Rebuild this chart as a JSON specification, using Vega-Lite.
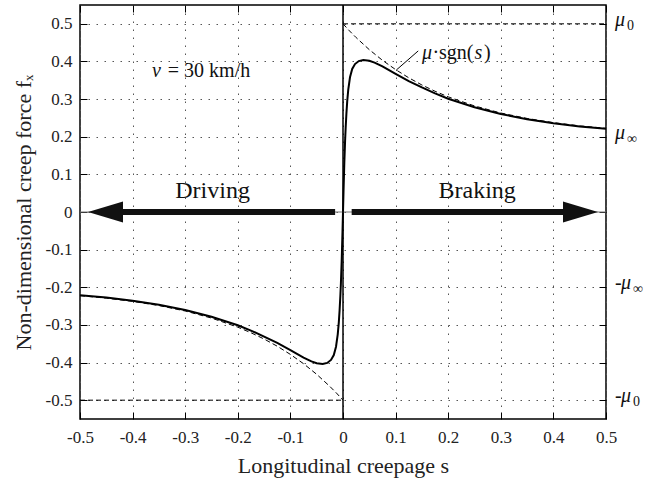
{
  "$schema": "https://vega.github.io/schema/vega-lite/v6.json",
  "width": 526,
  "height": 414,
  "autosize": {"type": "none"},
  "padding": {"left": 80, "top": 5, "right": 59, "bottom": 64},
  "background": "white",
  "config": {
    "font": "Liberation Serif",
    "view": {"stroke": "#000", "strokeWidth": 1.5},
    "axis": {
      "domain": false,
      "labelFont": "Liberation Serif",
      "labelFontSize": 17,
      "labelColor": "#222",
      "labelFlush": false,
      "titleFont": "Liberation Serif",
      "titleFontSize": 22,
      "titleFontWeight": "normal",
      "titleColor": "#222",
      "tickColor": "#000",
      "tickWidth": 1,
      "tickSize": -7,
      "gridColor": "#555",
      "gridDash": [1.5, 6.5],
      "gridWidth": 1
    },
    "text": {"font": "Liberation Serif", "color": "#111"}
  },
  "datasets": {
    "curves": [
      {"x": -0.5, "y": -0.221, "k": "solid"},
      {"x": -0.45, "y": -0.2274, "k": "solid"},
      {"x": -0.4, "y": -0.2357, "k": "solid"},
      {"x": -0.35, "y": -0.2465, "k": "solid"},
      {"x": -0.3, "y": -0.2604, "k": "solid"},
      {"x": -0.25, "y": -0.2785, "k": "solid"},
      {"x": -0.2, "y": -0.301, "k": "solid"},
      {"x": -0.175, "y": -0.315, "k": "solid"},
      {"x": -0.15, "y": -0.331, "k": "solid"},
      {"x": -0.125, "y": -0.348, "k": "solid"},
      {"x": -0.1, "y": -0.367, "k": "solid"},
      {"x": -0.075, "y": -0.387, "k": "solid"},
      {"x": -0.06, "y": -0.397, "k": "solid"},
      {"x": -0.05, "y": -0.402, "k": "solid"},
      {"x": -0.0386, "y": -0.404, "k": "solid"},
      {"x": -0.03, "y": -0.401, "k": "solid"},
      {"x": -0.0228, "y": -0.393, "k": "solid"},
      {"x": -0.0175, "y": -0.38, "k": "solid"},
      {"x": -0.0133, "y": -0.358, "k": "solid"},
      {"x": -0.01, "y": -0.325, "k": "solid"},
      {"x": -0.008, "y": -0.294, "k": "solid"},
      {"x": -0.0065, "y": -0.262, "k": "solid"},
      {"x": -0.005, "y": -0.222, "k": "solid"},
      {"x": -0.004, "y": -0.19, "k": "solid"},
      {"x": -0.0025, "y": -0.13, "k": "solid"},
      {"x": -0.001, "y": -0.055, "k": "solid"},
      {"x": 0, "y": 0, "k": "solid"},
      {"x": 0.001, "y": 0.055, "k": "solid"},
      {"x": 0.0025, "y": 0.13, "k": "solid"},
      {"x": 0.004, "y": 0.19, "k": "solid"},
      {"x": 0.005, "y": 0.222, "k": "solid"},
      {"x": 0.0065, "y": 0.262, "k": "solid"},
      {"x": 0.008, "y": 0.294, "k": "solid"},
      {"x": 0.01, "y": 0.325, "k": "solid"},
      {"x": 0.0133, "y": 0.358, "k": "solid"},
      {"x": 0.0175, "y": 0.38, "k": "solid"},
      {"x": 0.0228, "y": 0.393, "k": "solid"},
      {"x": 0.03, "y": 0.401, "k": "solid"},
      {"x": 0.0386, "y": 0.404, "k": "solid"},
      {"x": 0.05, "y": 0.402, "k": "solid"},
      {"x": 0.06, "y": 0.397, "k": "solid"},
      {"x": 0.075, "y": 0.387, "k": "solid"},
      {"x": 0.1, "y": 0.367, "k": "solid"},
      {"x": 0.125, "y": 0.348, "k": "solid"},
      {"x": 0.15, "y": 0.331, "k": "solid"},
      {"x": 0.175, "y": 0.315, "k": "solid"},
      {"x": 0.2, "y": 0.301, "k": "solid"},
      {"x": 0.25, "y": 0.2785, "k": "solid"},
      {"x": 0.3, "y": 0.2604, "k": "solid"},
      {"x": 0.35, "y": 0.2465, "k": "solid"},
      {"x": 0.4, "y": 0.2357, "k": "solid"},
      {"x": 0.45, "y": 0.2274, "k": "solid"},
      {"x": 0.5, "y": 0.221, "k": "solid"},
      {"x": 0, "y": 0.5, "k": "dpos"},
      {"x": 0.0125, "y": 0.481, "k": "dpos"},
      {"x": 0.025, "y": 0.4634, "k": "dpos"},
      {"x": 0.05, "y": 0.4313, "k": "dpos"},
      {"x": 0.075, "y": 0.4031, "k": "dpos"},
      {"x": 0.1, "y": 0.3784, "k": "dpos"},
      {"x": 0.125, "y": 0.3566, "k": "dpos"},
      {"x": 0.15, "y": 0.3375, "k": "dpos"},
      {"x": 0.175, "y": 0.3208, "k": "dpos"},
      {"x": 0.2, "y": 0.306, "k": "dpos"},
      {"x": 0.25, "y": 0.2818, "k": "dpos"},
      {"x": 0.3, "y": 0.263, "k": "dpos"},
      {"x": 0.35, "y": 0.2486, "k": "dpos"},
      {"x": 0.4, "y": 0.2375, "k": "dpos"},
      {"x": 0.45, "y": 0.2289, "k": "dpos"},
      {"x": 0.5, "y": 0.2223, "k": "dpos"},
      {"x": -0.5, "y": -0.2223, "k": "dneg"},
      {"x": -0.45, "y": -0.2289, "k": "dneg"},
      {"x": -0.4, "y": -0.2375, "k": "dneg"},
      {"x": -0.35, "y": -0.2486, "k": "dneg"},
      {"x": -0.3, "y": -0.263, "k": "dneg"},
      {"x": -0.25, "y": -0.2818, "k": "dneg"},
      {"x": -0.2, "y": -0.306, "k": "dneg"},
      {"x": -0.175, "y": -0.3208, "k": "dneg"},
      {"x": -0.15, "y": -0.3375, "k": "dneg"},
      {"x": -0.125, "y": -0.3566, "k": "dneg"},
      {"x": -0.1, "y": -0.3784, "k": "dneg"},
      {"x": -0.075, "y": -0.4031, "k": "dneg"},
      {"x": -0.05, "y": -0.4313, "k": "dneg"},
      {"x": -0.025, "y": -0.4634, "k": "dneg"},
      {"x": -0.0125, "y": -0.481, "k": "dneg"},
      {"x": 0, "y": -0.5, "k": "dneg"},
      {"x": 0, "y": 0.5, "k": "hpos"},
      {"x": 0.5, "y": 0.5, "k": "hpos"},
      {"x": -0.5, "y": -0.5, "k": "hneg"},
      {"x": 0, "y": -0.5, "k": "hneg"},
      {"x": 0.102, "y": 0.378, "k": "leader"},
      {"x": 0.143, "y": 0.428, "k": "leader"}
    ],
    "arrows": [
      {"x": -0.425, "x2": -0.015},
      {"x": 0.0165, "x2": 0.425}
    ],
    "heads": [
      {"x": -0.4515, "d": "L"},
      {"x": 0.4515, "d": "R"}
    ]
  },
  "layer": [
    {
      "data": {"name": "curves"},
      "transform": [{"filter": "datum.k == 'solid'"}],
      "mark": {"type": "line", "color": "#000", "strokeWidth": 2},
      "encoding": {
        "x": {
          "field": "x", "type": "quantitative",
          "scale": {"domain": [-0.5, 0.5], "nice": false, "zero": false},
          "axis": {
            "orient": "bottom",
            "values": [-0.5, -0.4, -0.3, -0.2, -0.1, 0, 0.1, 0.2, 0.3, 0.4, 0.5],
            "labelExpr": "datum.value == 0 ? '0' : replace(format(datum.value, '.1f'), '−', '-')",
            "grid": true,
            "labelPadding": 17,
            "title": "Longitudinal creepage s",
            "titleY": 53,
            "titleBaseline": "alphabetic"
          }
        },
        "y": {
          "field": "y", "type": "quantitative",
          "scale": {"domain": [-0.55, 0.55], "nice": false, "zero": false},
          "axis": {
            "orient": "left",
            "values": [-0.5, -0.4, -0.3, -0.2, -0.1, 0, 0.1, 0.2, 0.3, 0.4, 0.5],
            "labelExpr": "datum.value == 0 ? '0' : replace(format(datum.value, '.1f'), '−', '-')",
            "grid": true,
            "labelPadding": 15,
            "title": "Non-dimensional creep force fₓ",
            "titleX": -50,
            "titleY": 207,
            "titleAngle": -90,
            "titleBaseline": "alphabetic"
          }
        }
      }
    },
    {
      "data": {"name": "curves"},
      "transform": [{"filter": "indexof(['dpos','dneg','hpos','hneg'], datum.k) >= 0"}],
      "mark": {"type": "line", "color": "#000", "strokeWidth": 1, "strokeDash": [5, 3]},
      "encoding": {
        "x": {
          "field": "x", "type": "quantitative",
          "axis": {"orient": "top", "values": [-0.5, -0.4, -0.3, -0.2, -0.1, 0, 0.1, 0.2, 0.3, 0.4, 0.5], "labels": false, "grid": false, "title": null}
        },
        "y": {
          "field": "y", "type": "quantitative",
          "axis": {"orient": "right", "values": [-0.5, -0.4, -0.3, -0.2, -0.1, 0, 0.1, 0.2, 0.3, 0.4, 0.5], "labels": false, "grid": false, "title": null}
        },
        "detail": {"field": "k"}
      }
    },
    {
      "data": {"values": [{}]},
      "mark": {"type": "rule", "color": "#777", "strokeWidth": 1.2},
      "encoding": {"y": {"datum": 0, "type": "quantitative", "axis": null}}
    },
    {
      "data": {"values": [{}]},
      "mark": {"type": "rule", "color": "#000", "strokeWidth": 1.5},
      "encoding": {"x": {"datum": 0, "type": "quantitative", "axis": null}}
    },
    {
      "data": {"name": "curves"},
      "transform": [{"filter": "datum.k == 'leader'"}],
      "mark": {"type": "line", "color": "#000", "strokeWidth": 1},
      "encoding": {
        "x": {"field": "x", "type": "quantitative", "axis": null},
        "y": {"field": "y", "type": "quantitative", "axis": null}
      }
    },
    {
      "data": {"name": "arrows"},
      "mark": {"type": "rule", "color": "#111", "strokeWidth": 6, "strokeCap": "butt"},
      "encoding": {
        "x": {"field": "x", "type": "quantitative", "axis": null},
        "x2": {"field": "x2"},
        "y": {"datum": 0, "type": "quantitative", "axis": null}
      }
    },
    {
      "data": {"name": "heads"},
      "mark": {"type": "point", "filled": true, "color": "#111", "opacity": 1, "strokeWidth": 0, "size": 1225},
      "encoding": {
        "x": {"field": "x", "type": "quantitative", "axis": null},
        "y": {"datum": 0, "type": "quantitative", "axis": null},
        "shape": {
          "field": "d", "type": "nominal", "legend": null,
          "scale": {"domain": ["L", "R"], "range": ["M -1 0 L 1 -0.6 L 1 0.6 Z", "M 1 0 L -1 -0.6 L -1 0.6 Z"]}
        }
      }
    },
    {
      "data": {"values": [
        {"x": -0.333, "y": 0.359, "t": "= 30 km/h"},
        {"x": 0.170, "y": 0.407, "t": "·sgn("},
        {"x": 0.268, "y": 0.407, "t": ")"}
      ]},
      "mark": {"type": "text", "align": "left", "baseline": "alphabetic", "fontSize": 20},
      "encoding": {
        "x": {"field": "x", "type": "quantitative", "axis": null},
        "y": {"field": "y", "type": "quantitative", "axis": null},
        "text": {"field": "t"}
      }
    },
    {
      "data": {"values": [
        {"x": -0.363, "y": 0.359, "t": "v"},
        {"x": 0.150, "y": 0.407, "t": "μ"},
        {"x": 0.250, "y": 0.407, "t": "s"}
      ]},
      "mark": {"type": "text", "align": "left", "baseline": "alphabetic", "fontSize": 20, "fontStyle": "italic"},
      "encoding": {
        "x": {"field": "x", "type": "quantitative", "axis": null},
        "y": {"field": "y", "type": "quantitative", "axis": null},
        "text": {"field": "t"}
      }
    },
    {
      "data": {"values": [
        {"x": -0.248, "y": 0.036, "t": "Driving"},
        {"x": 0.255, "y": 0.036, "t": "Braking"}
      ]},
      "mark": {"type": "text", "align": "center", "baseline": "alphabetic", "fontSize": 24},
      "encoding": {
        "x": {"field": "x", "type": "quantitative", "axis": null},
        "y": {"field": "y", "type": "quantitative", "axis": null},
        "text": {"field": "t"}
      }
    },
    {
      "data": {"values": [{"y": 0.5}, {"y": 0.2}]},
      "mark": {"type": "text", "align": "left", "baseline": "alphabetic", "fontSize": 20, "fontStyle": "italic", "dx": 9, "dy": 2},
      "encoding": {
        "x": {"datum": 0.5, "type": "quantitative", "axis": null},
        "y": {"field": "y", "type": "quantitative", "axis": null},
        "text": {"value": "μ"}
      }
    },
    {
      "data": {"values": [{"y": -0.5}, {"y": -0.2}]},
      "mark": {"type": "text", "align": "left", "baseline": "alphabetic", "fontSize": 20, "fontStyle": "italic", "dx": 15, "dy": 2},
      "encoding": {
        "x": {"datum": 0.5, "type": "quantitative", "axis": null},
        "y": {"field": "y", "type": "quantitative", "axis": null},
        "text": {"value": "μ"}
      }
    },
    {
      "data": {"values": [{"y": -0.5}, {"y": -0.2}]},
      "mark": {"type": "text", "align": "left", "baseline": "alphabetic", "fontSize": 20, "dx": 9, "dy": 2},
      "encoding": {
        "x": {"datum": 0.5, "type": "quantitative", "axis": null},
        "y": {"field": "y", "type": "quantitative", "axis": null},
        "text": {"value": "-"}
      }
    },
    {
      "data": {"values": [{"y": 0.5, "t": "0"}, {"y": 0.2, "t": "∞"}]},
      "mark": {"type": "text", "align": "left", "baseline": "alphabetic", "fontSize": 14, "dx": 21, "dy": 6},
      "encoding": {
        "x": {"datum": 0.5, "type": "quantitative", "axis": null},
        "y": {"field": "y", "type": "quantitative", "axis": null},
        "text": {"field": "t"}
      }
    },
    {
      "data": {"values": [{"y": -0.5, "t": "0"}, {"y": -0.2, "t": "∞"}]},
      "mark": {"type": "text", "align": "left", "baseline": "alphabetic", "fontSize": 14, "dx": 27, "dy": 6},
      "encoding": {
        "x": {"datum": 0.5, "type": "quantitative", "axis": null},
        "y": {"field": "y", "type": "quantitative", "axis": null},
        "text": {"field": "t"}
      }
    }
  ]
}
